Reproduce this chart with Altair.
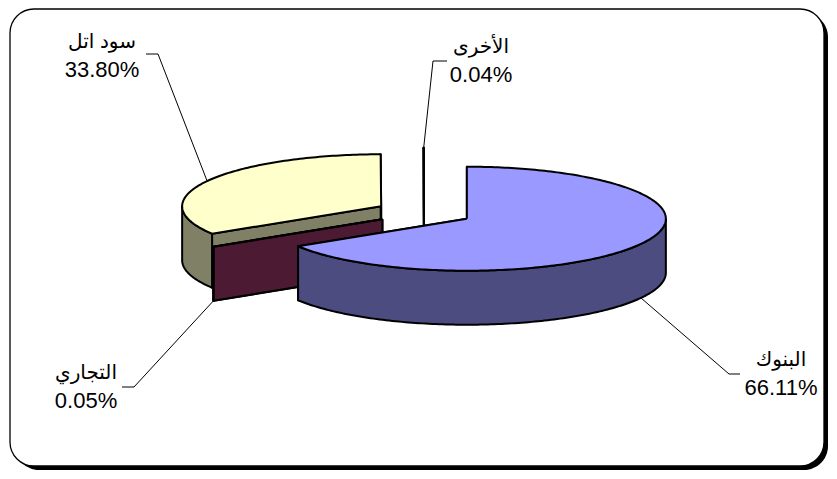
import math
import altair as alt
import pandas as pd

# ---------------- data ----------------
categories = ["البنوك", "التجاري", "سود اتل", "الأخرى"]
shares = [66.11, 0.05, 33.80, 0.04]
share_labels = ["66.11%", "0.05%", "33.80%", "0.04%"]

# ---------------- style ----------------
TOP_COLORS = ["#9999FF", "#993366", "#FFFFCC", "#CCFFFF"]
SIDE_COLORS = ["#4C4C80", "#4C1A33", "#808066", "#666680"]
FONT = "Liberation Sans, DejaVu Sans, sans-serif"

# ---------------- layout (pixel space of the picture) ----------------
W, H = 821, 463
ORIGIN = 8
CX, CY = 424.0, 212.5      # pie centre
RX, RY = 199.0, 52.0       # ellipse radii of the tilted pie
DEPTH = 54.0               # thickness of the pie
EXPLODE = 49.0             # explosion distance

# label centre x, baselines of the two lines, elbow and tail of leader line
LABEL_LAYOUT = [
    dict(x=781, name_y=366, pct_y=395, elbow=(729, 374), tail=(740, 374)),
    dict(x=86, name_y=379, pct_y=408, elbow=(134, 387), tail=(122, 387)),
    dict(x=102, name_y=48, pct_y=77, elbow=(158, 54), tail=(146, 54)),
    dict(x=481, name_y=53, pct_y=82, elbow=(433, 61), tail=(447, 61)),
]


def rim(cx, cy, deg, drop=0.0):
    t = math.radians(deg)
    return cx + RX * math.sin(t), cy - RY * math.cos(t) + drop


total = sum(shares)
poly_rows = []
slices = []
anchors = []
start = 0.0
for i, v in enumerate(shares):
    a0 = start
    a1 = start + 360.0 * v / total
    start = a1
    am = (a0 + a1) / 2.0
    t = math.radians(am)
    cx = CX + EXPLODE * math.sin(t)
    cy = CY - EXPLODE * (RY / RX) * math.cos(t)

    polys = []
    for j, a in enumerate((a0, a1)):
        px, py = rim(cx, cy, a)
        pts = [(cx, cy), (px, py), (px, py + DEPTH), (cx, cy + DEPTH), (cx, cy)]
        polys.append((f"s{i}c{j}", f"{i}|side", pts))
    f0, f1 = max(a0, 90.0), min(a1, 270.0)
    if f1 > f0:
        m = max(2, int(math.ceil(f1 - f0)) + 1)
        ang = [f0 + (f1 - f0) * k / (m - 1) for k in range(m)]
        topp = [rim(cx, cy, a) for a in ang]
        botp = [rim(cx, cy, a, DEPTH) for a in reversed(ang)]
        polys.append((f"s{i}w", f"{i}|side", topp + botp + [topp[0]]))
    n = max(2, int(math.ceil(a1 - a0)) + 1)
    arc = [a0 + (a1 - a0) * k / (n - 1) for k in range(n)]
    top_pts = [(cx, cy)] + [rim(cx, cy, a) for a in arc] + [(cx, cy)]
    polys.append((f"s{i}t", f"{i}|top", top_pts))
    key = max(p[1] for p in top_pts)
    slices.append((key, i, polys))

    ax, ay = rim(cx, cy, am, DEPTH if math.cos(t) < 0 else 0.0)
    anchors.append((ax, ay))

slices.sort(key=lambda s: s[0])
paint_order = []
for _, i, polys in slices:
    for pid, shade, pts in polys:
        paint_order.append(pid)
        for k, (x, y) in enumerate(pts):
            poly_rows.append(dict(pid=pid, k=k, x=x, y=y, shade=shade))

poly_df = pd.DataFrame(poly_rows)

shade_domain = [f"{i}|top" for i in range(len(categories))] + [f"{i}|side" for i in range(len(categories))]
shade_range = TOP_COLORS + SIDE_COLORS

xs = alt.Scale(domain=[ORIGIN, ORIGIN + W], nice=False, zero=False)
ys = alt.Scale(domain=[ORIGIN, ORIGIN + H], nice=False, zero=False, reverse=True)
X = alt.X("x:Q", scale=xs, axis=None)
Y = alt.Y("y:Q", scale=ys, axis=None)

one = pd.DataFrame({"a": [0]})
shadow = alt.Chart(one).mark_rect(color="black", cornerRadius=24).encode(
    x=alt.value(7), x2=alt.value(820), y=alt.value(5), y2=alt.value(462)
)
frame = alt.Chart(one).mark_rect(
    fill="white", stroke="black", strokeWidth=1.3, cornerRadius=24
).encode(x=alt.value(2), x2=alt.value(816), y=alt.value(1), y2=alt.value(458))

layers = [shadow, frame]
base = alt.Chart(poly_df)
for pid in paint_order:
    layers.append(
        base.transform_filter(alt.datum.pid == pid)
        .mark_line(filled=True, stroke="black", strokeWidth=2, strokeJoin="round")
        .encode(
            x=X,
            y=Y,
            order=alt.Order("k:Q"),
            color=alt.Color("shade:N", scale=alt.Scale(domain=shade_domain, range=shade_range), legend=None),
        )
    )

# leader lines
lead_rows = []
name_rows = []
pct_rows = []
for i, lay in enumerate(LABEL_LAYOUT):
    pts = [anchors[i], lay["elbow"], lay["tail"]]
    for k, (x, y) in enumerate(pts):
        lead_rows.append(dict(lid=i, k=k, x=x, y=y))
    name_rows.append(dict(x=lay["x"], y=lay["name_y"], txt=categories[i]))
    pct_rows.append(dict(x=lay["x"], y=lay["pct_y"], txt=share_labels[i]))

lead = alt.Chart(pd.DataFrame(lead_rows)).mark_line(color="black", strokeWidth=1).encode(
    x=X, y=Y, order=alt.Order("k:Q"), detail="lid:N"
)
names = alt.Chart(pd.DataFrame(name_rows)).mark_text(
    font=FONT, fontSize=20, color="black", align="center", baseline="alphabetic"
).encode(x=X, y=Y, text="txt:N")
pcts = alt.Chart(pd.DataFrame(pct_rows)).mark_text(
    font=FONT, fontSize=22, color="black", align="center", baseline="alphabetic"
).encode(x=X, y=Y, text="txt:N")

layers += [lead, names, pcts]

chart = (
    alt.layer(*layers)
    .properties(width=W, height=H, autosize=alt.AutoSizeParams(type="none"), padding=0)
    .configure_view(strokeOpacity=0)
)

chart.save("out.html", embed_options={"renderer": "svg", "actions": False})
